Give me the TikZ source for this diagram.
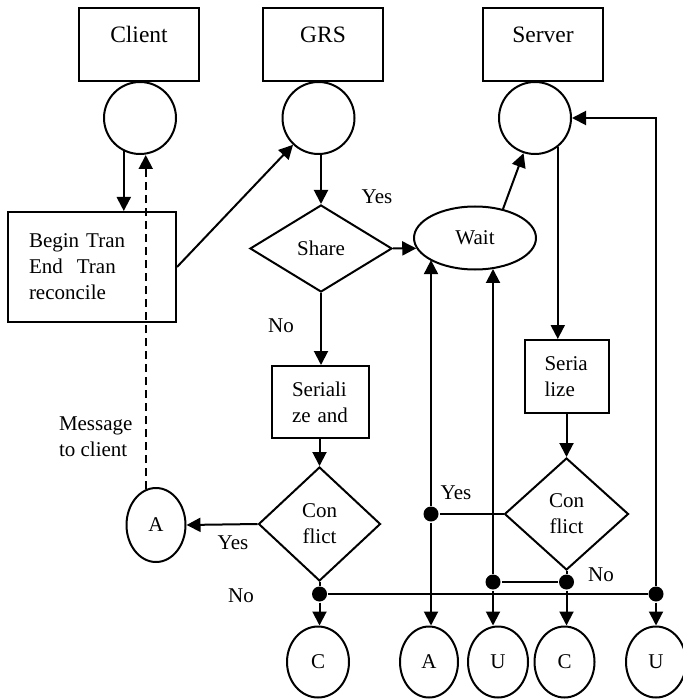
\documentclass[tikz,border=0pt]{standalone}
\usepackage{fontspec}
\setmainfont{Liberation Serif}
\usetikzlibrary{arrows.meta,shapes.geometric,calc}
\begin{document}
\begin{tikzpicture}[x=1pt,y=-1pt,
  line width=2pt,
  every node/.style={font=\fontsize{21}{26}\selectfont},
  arr/.style={-{Triangle[length=14pt,width=14pt]}},
  boxnode/.style={draw, rectangle, inner sep=0pt},
  titlebox/.style={draw, rectangle, inner sep=0pt, minimum width=120pt, minimum height=73pt,
    font=\fontsize{23.5}{28}\selectfont, text height=16pt, text depth=19pt},
  circ/.style={draw, ellipse, inner sep=0pt},
  dia/.style={draw, diamond, inner sep=0pt},
  dotnode/.style={circle, fill, inner sep=0pt, minimum size=15pt},
  lbl/.style={inner sep=0pt},
  dsh/.style={dash pattern=on 8pt off 5pt}]
\useasboundingbox (0,0) rectangle (682,700);

% top boxes
\node[titlebox] (client) at (139,44.5) {Client};
\node[titlebox] (grs) at (323,44.5) {GRS};
\node[titlebox] (server) at (543,44.5) {Server};

% circles
\node[circ, minimum width=72pt, minimum height=72pt] (c1) at (140,118) {};
\node[circ, minimum width=72pt, minimum height=72pt] (c2) at (318.5,118) {};
\node[circ, minimum width=72pt, minimum height=72pt] (c3) at (535,118) {};

% begin box
\node[boxnode, minimum height=110pt, text width=126pt, inner xsep=21pt, align=left] (begin) at (92,267) {Begin Tran\\End\ \ Tran\\reconcile};

% share, wait
\node[dia, minimum width=142pt, minimum height=87pt] (share) at (321,248.5) {Share};
\node[circ, minimum width=122pt, minimum height=63pt] (wait) at (475,238) {Wait};

% serialize boxes
\node[boxnode, minimum height=72pt, text width=57pt, inner xsep=20pt, align=left] (ser1) at (320.5,402) {Seriali\\ze and};
\node[boxnode, minimum height=73pt, text width=44pt, inner xsep=20pt, align=left] (ser2) at (566.5,376.5) {Seria\\lize};

% conflict diamonds
\node[dia, minimum width=122pt, minimum height=114pt, align=center] (conf1) at (319.5,524) {Con\\flict};
\node[dia, minimum width=124pt, minimum height=112pt, align=center] (conf2) at (566.5,514) {Con\\flict};

% A (message)
\node[circ, minimum width=59pt, minimum height=74pt] (a1) at (156,525) {A};

% bottom circles
\node[circ, minimum width=62pt, minimum height=71pt] (cb1) at (318,662) {C};
\node[circ, minimum width=58pt, minimum height=71pt] (a2) at (429,662) {A};
\node[circ, minimum width=60pt, minimum height=71pt] (u1) at (498,662) {U};
\node[circ, minimum width=60pt, minimum height=71pt] (cb2) at (564.5,662) {C};
\node[circ, minimum width=60pt, minimum height=71pt] (u2) at (656,662) {U};

% junction dots
\node[dotnode] (dn1) at (319.5,594) {};
\node[dotnode] (dy) at (431,514) {};
\node[dotnode] (du) at (493,582) {};
\node[dotnode] (dn2) at (566.5,582) {};
\node[dotnode] (dr) at (656,594) {};

% labels
\node[lbl] (yes1) at (377,197) {Yes};
\node[lbl] (no1) at (281,326) {No};
\node[lbl, align=left, anchor=west] (msg) at (58,437) {Message\\to client};
\node[lbl] (yes2) at (233,543) {Yes};
\node[lbl] (no2) at (241,596) {No};
\node[lbl] (yes3) at (456,493) {Yes};
\node[lbl] (no3) at (601,575) {No};

% connectors
\draw[arr] (c1.244) -- (c1.244 |- begin.north);
\draw[arr, dsh] (a1.106) -- (a1.106 |- c1.south);
\draw[arr] (begin.east) -- (c2);
\draw[arr] (share.north |- c2.south) -- (share.north);
\draw[arr] (share.east) -- (wait.190);
\draw[arr] (wait.46) -- (c3.252);
\draw[arr] (c3.308) -- (c3.308 |- ser2.north);
\draw[arr] (ser2.south) -- (conf2.north);
\draw (conf2.west) -- (dy);
\draw (conf2.south) -- (dn2);
\draw (dn2) -- (du);
\draw[arr] (dn2) -- (dn2 |- cb2.north);
\draw[arr] (du) -- (du |- u1.north);
\draw[arr] (du) -- (wait.301 -| du);
\draw[arr] (dy) -- (dy |- a2.north);
\draw[arr] (dy) -- (wait.206 -| dy);
\draw[arr] (share.south) -- (share.south |- ser1.north);
\draw[arr] (ser1.south -| conf1.north) -- (conf1.north);
\draw[arr] (conf1.west) -- (a1.east);
\draw (conf1.south) -- (dn1);
\draw[arr] (dn1) -- (dn1 |- cb1.north);
\draw (dn1) -- (dr);
\draw[arr] (dr) -- (dr |- u2.north);
\draw[arr] (dr) -- (dr |- c3.east) -- (c3.east);
\end{tikzpicture}
\end{document}
